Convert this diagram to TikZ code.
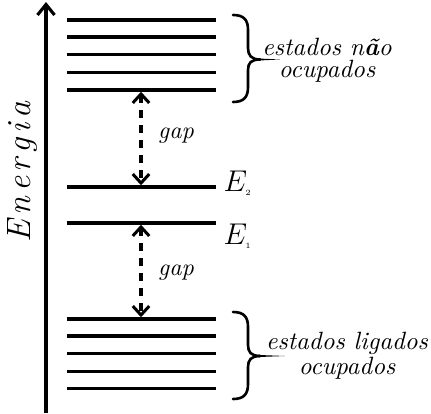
\documentclass[tikz,border=0pt]{standalone}
\usepackage{fontspec}
\usetikzlibrary{arrows.meta}
\tikzset{
  level/.style={line width=1.25pt},
  axisline/.style={line width=1.25pt,-{Straight Barb[length=4.2pt,width=6.8pt,line width=1.25pt]}},
  gaparrow/.style={line width=1.25pt,dash pattern=on 3.2pt off 2.8pt,
     {Straight Barb[length=3.6pt,width=6.6pt,line width=1.2pt,sep=0.3pt]}-{Straight Barb[length=3.6pt,width=6.6pt,line width=1.2pt,sep=0.3pt]}},
  bracestyle/.style={line width=1.05pt,line cap=round},
  lbl/.style={font=\fontsize{10}{8.8}\selectfont\itshape,align=center,inner sep=0pt},
  gaplbl/.style={font=\fontsize{9.6}{10}\selectfont\itshape,inner sep=0pt,anchor=base},
  elbl/.style={inner sep=0pt,anchor=base west,font=\fontsize{12}{12}\selectfont},
}
\newcommand{\tinysub}[1]{\mbox{\fontsize{3.2}{3.2}\selectfont #1}}
\begin{document}
\begin{tikzpicture}[x=0.4pt,y=-0.4pt]
\useasboundingbox (0,0) rectangle (431,413);
% axis
\coordinate (axbot) at (46,413);
\coordinate (axtop) at (46,2);
\draw[axisline] (axbot) -- (axtop);
\node[rotate=90,inner sep=0pt,font=\fontsize{13.5}{13.5}\selectfont\itshape] (energia) at (22,172)
  {E\hspace{1.9pt}n\hspace{1.9pt}e\hspace{1.9pt}r\hspace{1.9pt}g\hspace{1.9pt}i\hspace{1.9pt}a};
% upper levels
\foreach \y [count=\i] in {20,37,54.3,72.3,90}{
  \coordinate (uL\i) at (67,\y); \coordinate (uR\i) at (216,\y);
  \draw[level] (uL\i) -- (uR\i);
}
% E2, E1
\coordinate (e2L) at (67,187); \coordinate (e2R) at (216,187);
\coordinate (e1L) at (67,223); \coordinate (e1R) at (216,223);
\draw[level] (e2L) -- (e2R);
\draw[level] (e1L) -- (e1R);
% lower levels
\foreach \y [count=\i] in {319,336,353.3,371.7,388.7}{
  \coordinate (lL\i) at (67,\y); \coordinate (lR\i) at (216,\y);
  \draw[level] (lL\i) -- (lR\i);
}
% gap arrows
\coordinate (g1a) at (141,91); \coordinate (g1b) at (141,186);
\coordinate (g2a) at (141,224); \coordinate (g2b) at (141,318);
\draw[gaparrow] (g1a) -- (g1b);
\draw[gaparrow] (g2a) -- (g2b);
\node[gaplbl] (gap1) at (176,138) {gap};
\node[gaplbl] (gap2) at (176,275) {gap};
% E labels
\node[elbl] (E2) at (223,191) {$E_{\tinysub{2}}$};
\node[elbl] (E1) at (223,244) {$E_{\tinysub{1}}$};
% upper brace
\draw[bracestyle] (233,15) .. controls (244,15) and (248,20) .. (248,30) -- (248,48)
   .. controls (248,55) and (251,59.5) .. (260,59.5);
\draw[bracestyle] (233,102) .. controls (244,102) and (248,97) .. (248,87) -- (248,70)
   .. controls (248,63) and (251,59.5) .. (260,59.5);
\fill (254,58.3) -- (280,59.5) -- (254,60.7) -- cycle;
% lower brace
\draw[bracestyle] (233,312) .. controls (244,312) and (248,317) .. (248,327) -- (248,345)
   .. controls (248,352) and (251,356) .. (260,356);
\draw[bracestyle] (233,399) .. controls (244,399) and (248,394) .. (248,384) -- (248,367)
   .. controls (248,360) and (251,356) .. (260,356);
\fill (254,354.8) -- (285,356) -- (254,357.2) -- cycle;
% texts
\node[lbl] (t1) at (327,60) {estados n{\bfseries ã}o\\ocupados};
\node[lbl] (t2) at (347,356) {estados ligados\\ocupados};
\end{tikzpicture}
\end{document}
